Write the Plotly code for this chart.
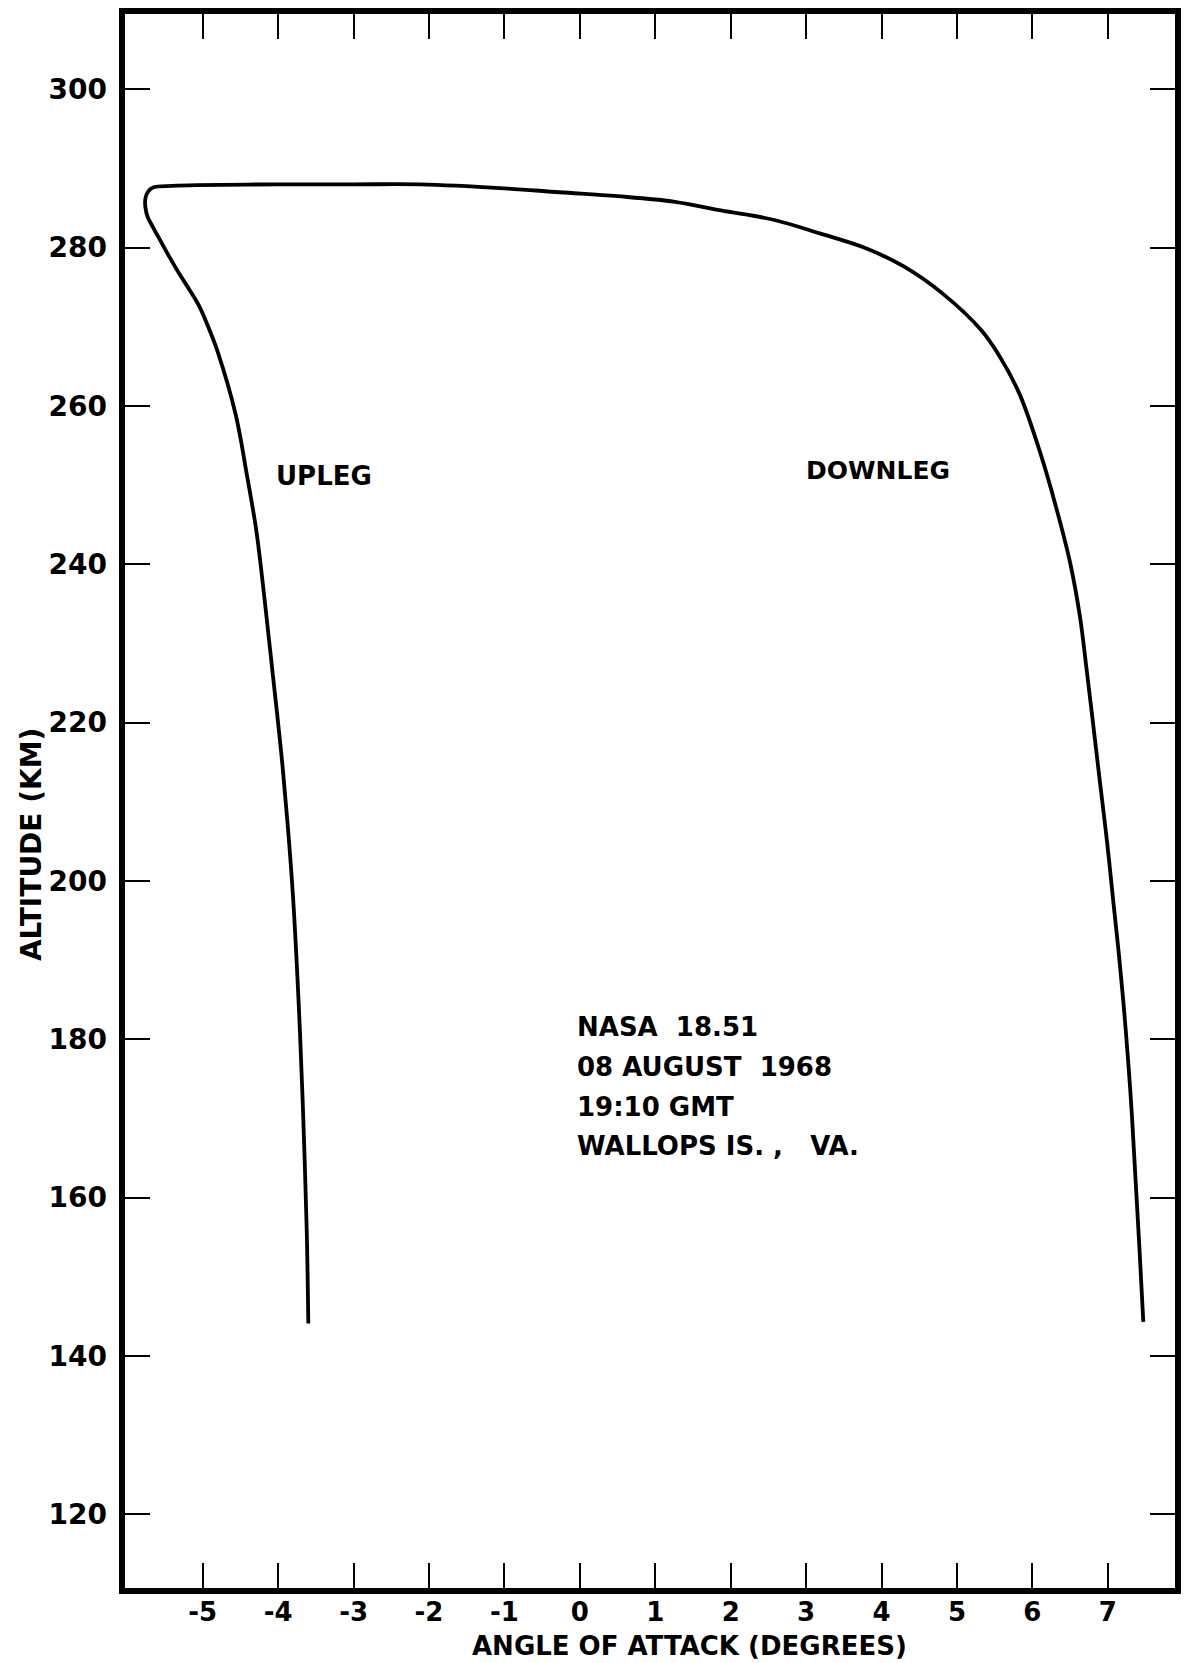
import plotly.graph_objects as go

# Angle of attack (degrees) vs altitude (km), NASA 18.51 flight
upleg_angle = [-3.60, -3.62, -3.66, -3.71, -3.80, -3.87, -3.96, -4.07, -4.18, -4.29,
               -4.42, -4.56, -4.80, -4.91, -5.04, -5.17, -5.31, -5.44, -5.55, -5.66,
               -5.73, -5.76, -5.76, -5.73, -5.66]
upleg_alt = [144.1, 155.5, 168.1, 180.8, 197.6, 206.7, 216.3, 226.0, 235.6, 244.3,
             251.6, 258.8, 266.8, 269.6, 272.5, 274.6, 276.7, 278.8, 280.7, 282.6,
             283.9, 285.1, 286.2, 287.0, 287.6]

downleg_angle = [-5.40, -5.08, -4.00, -3.00, -2.12, -1.00, -0.27, 0.50, 1.26, 1.87,
                 2.58, 3.18, 3.80, 4.30, 4.81, 5.32, 5.57, 5.83, 6.10, 6.32,
                 6.50, 6.63, 6.72, 6.81, 6.90, 6.99, 7.07, 7.14, 7.205, 7.275,
                 7.32, 7.37, 7.42, 7.47]
downleg_alt = [287.8, 287.9, 288.0, 288.0, 288.0, 287.5, 287.0, 286.5, 285.8, 284.7,
               283.5, 281.8, 279.9, 277.6, 274.2, 269.6, 266.2, 261.5, 254.2, 247.0,
               240.2, 233.4, 226.6, 219.4, 212.1, 204.9, 197.6, 191.3, 184.8, 176.5,
               170.2, 161.8, 153.4, 144.3]

x_tickvals = [-5, -4, -3, -2, -1, 0, 1, 2, 3, 4, 5, 6, 7]
x_ticktext = ["-5", "-4", "-3", "-2", "-1", "0", "1", "2", "3", "4", "5", "6", "7"]
y_tickvals = [120, 140, 160, 180, 200, 220, 240, 260, 280, 300]
y_ticktext = ["120", "140", "160", "180", "200", "220", "240", "260", "280", "300"]

info_lines = ["NASA  18.51", "08 AUGUST  1968", "19:10 GMT", "WALLOPS IS. ,\u00a0\u00a0\u00a0VA."]
info_alt = [181.5, 176.5, 171.5, 166.5]

FONT = "DejaVu Sans"
INK = "black"

fig = go.Figure()
fig.add_trace(go.Scatter(
    x=upleg_angle + downleg_angle,
    y=upleg_alt + downleg_alt,
    mode="lines",
    line=dict(color=INK, width=3.8, shape="spline", smoothing=1.0),
    hoverinfo="skip",
    showlegend=False,
))

axis_common = dict(
    showgrid=False, zeroline=False, showline=False,
    ticks="inside", ticklen=28, tickwidth=2, tickcolor=INK,
    mirror="allticks",
)

fig.update_layout(
    width=1186, height=1663,
    margin=dict(l=122, r=8, t=11, b=72, pad=0),
    paper_bgcolor="white", plot_bgcolor="white",
    font=dict(family=FONT, color=INK, weight="bold"),
    xaxis=dict(range=[-6.07, 7.93], tickmode="array", tickvals=x_tickvals,
               ticktext=x_ticktext,
               tickfont=dict(size=26, family=FONT, weight="bold"),
               ticklabelstandoff=3, **axis_common),
    yaxis=dict(range=[110.3, 309.9], tickmode="array", tickvals=y_tickvals,
               ticktext=y_ticktext,
               tickfont=dict(size=28, family=FONT, weight="bold"),
               ticklabelstandoff=14, **axis_common),
    shapes=[dict(type="rect", xref="paper", yref="paper", x0=0, x1=1, y0=0, y1=1,
                 line=dict(color=INK, width=6), layer="above")],
)

annotations = [
    dict(text="ANGLE OF ATTACK (DEGREES)", xref="paper", yref="paper",
         x=0.537, y=-0.035, xanchor="center", yanchor="middle",
         showarrow=False, font=dict(size=26, family=FONT, weight="bold")),
    dict(text="ALTITUDE (KM)", xref="paper", yref="paper",
         x=-0.0862, y=0.4727, xanchor="center", yanchor="middle", textangle=-90,
         showarrow=False, font=dict(size=28, family=FONT, weight="bold")),
    dict(text="UPLEG", x=-3.39, y=251.1, xanchor="center", yanchor="middle",
         showarrow=False, font=dict(size=26, family=FONT, weight="bold")),
    dict(text="DOWNLEG", x=3.95, y=251.9, xanchor="center", yanchor="middle",
         showarrow=False, font=dict(size=25, family=FONT, weight="bold")),
]
for line, alt in zip(info_lines, info_alt):
    annotations.append(dict(text=line, x=-0.07, y=alt, xanchor="left", yanchor="middle",
                            showarrow=False, font=dict(size=26, family=FONT, weight="bold")))
fig.update_layout(annotations=annotations)

fig.write_html("out.html")
